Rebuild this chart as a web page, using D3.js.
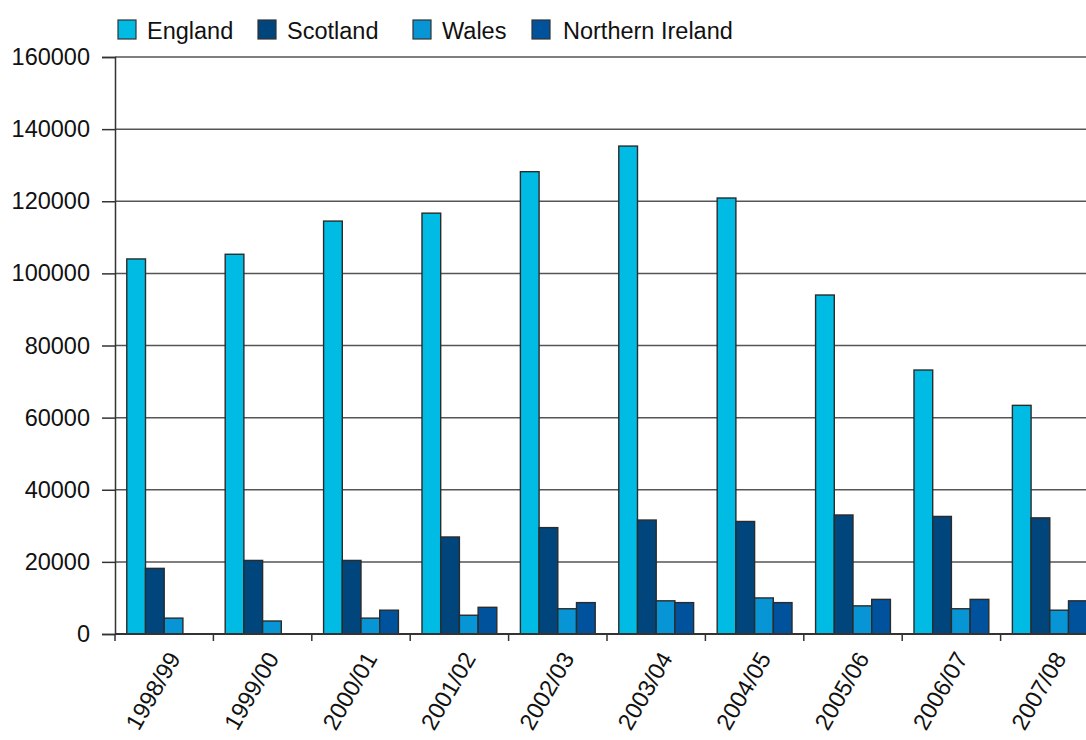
<!DOCTYPE html>
<html>
<head>
<meta charset="utf-8">
<script src="https://cdn.jsdelivr.net/npm/d3@7"></script>
<style>
  html, body { margin: 0; padding: 0; background: #fff; }
  svg { display: block; font-family: "Liberation Sans", Arial, Helvetica, sans-serif; }
</style>
</head>
<body>
<svg id="chart" width="1086" height="740"></svg>
<script>
// Yearly figures by UK nation
const years = ["1998/99", "1999/00", "2000/01", "2001/02", "2002/03", "2003/04", "2004/05", "2005/06", "2006/07", "2007/08"];
const seriesNames = ["England", "Scotland", "Wales", "Northern Ireland"];
const england = [104000, 105300, 114500, 116700, 128200, 135300, 120900, 94000, 73200, 63400];
const scotland = [18200, 20400, 20400, 26900, 29500, 31600, 31200, 33000, 32600, 32200];
const wales = [4400, 3600, 4400, 5200, 7000, 9200, 10000, 7800, 7000, 6600];
const northernIreland = [null, null, 6600, 7400, 8700, 8700, 8700, 9600, 9600, 9200];
const yTicks = [0, 20000, 40000, 60000, 80000, 100000, 120000, 140000, 160000];
const colors = ["#00bce4", "#00457c", "#0795d6", "#01529c"];

const values = [england, scotland, wales, northernIreland];
const rows = years.map((yr, i) => ({ year: yr, vals: seriesNames.map((s, k) => ({ key: s, k, v: values[k][i] })) }));

const svg = d3.select("#chart");
const plotLeft = 115, plotTop = 57, plotBottom = 634;
const step = 98.4;
const plotRight = plotLeft + step * years.length;
const fontSize = 23.5;

const x0 = d3.scaleBand().domain(years).range([plotLeft, plotRight]).paddingInner(0).paddingOuter(0);
const x1 = d3.scaleBand().domain(seriesNames).range([0, x0.bandwidth()]).paddingInner(0).paddingOuter(0.63);
const y = d3.scaleLinear().domain([0, 160000]).range([plotBottom, plotTop]);

// horizontal gridlines
svg.append("g")
  .selectAll("line")
  .data(yTicks.filter(d => d > 0))
  .join("line")
  .attr("x1", plotLeft).attr("x2", plotRight)
  .attr("y1", d => y(d)).attr("y2", d => y(d))
  .attr("stroke", "#555").attr("stroke-width", 1.5);

// bars
svg.append("g")
  .selectAll("g")
  .data(rows)
  .join("g")
  .attr("transform", d => `translate(${x0(d.year)},0)`)
  .selectAll("rect")
  .data(d => d.vals.filter(v => v.v != null))
  .join("rect")
  .attr("x", d => x1(d.key))
  .attr("y", d => y(d.v))
  .attr("width", x1.bandwidth())
  .attr("height", d => y(0) - y(d.v))
  .attr("fill", d => colors[d.k])
  .attr("stroke", "#2b2b2b")
  .attr("stroke-width", 1.4);

// y axis
const yAxis = d3.axisLeft(y).tickValues(yTicks).tickSize(13).tickPadding(12).tickFormat(d3.format("d"));
const gy = svg.append("g").attr("transform", `translate(${plotLeft},0)`).call(yAxis);
gy.select(".domain").attr("stroke", "#333").attr("stroke-width", 1.5);
gy.selectAll(".tick line").attr("stroke", "#333").attr("stroke-width", 1.5);
gy.selectAll(".tick text").attr("font-size", fontSize).attr("fill", "#111").attr("font-family", "Liberation Sans, Arial, sans-serif");

// x axis baseline with ticks at category boundaries
svg.append("line")
  .attr("x1", plotLeft).attr("x2", plotRight)
  .attr("y1", plotBottom).attr("y2", plotBottom)
  .attr("stroke", "#333").attr("stroke-width", 1.8);
svg.append("g")
  .selectAll("line")
  .data(years)
  .join("line")
  .attr("x1", d => x0(d)).attr("x2", d => x0(d))
  .attr("y1", plotBottom).attr("y2", plotBottom + 7)
  .attr("stroke", "#333").attr("stroke-width", 1.5);

// rotated category labels
svg.append("g")
  .selectAll("text")
  .data(years)
  .join("text")
  .attr("transform", d => `translate(${x0(d) + x0.bandwidth() / 2 + 10},${plotBottom + 20}) rotate(-60)`)
  .attr("text-anchor", "end")
  .attr("dy", "0.35em")
  .attr("font-size", fontSize)
  .attr("fill", "#111")
  .text(d => d);

// legend
const legendX = [118, 258, 413, 532];
const legend = svg.append("g")
  .selectAll("g")
  .data(seriesNames)
  .join("g")
  .attr("transform", (d, i) => `translate(${legendX[i]},20)`);
legend.append("rect")
  .attr("width", 18).attr("height", 19)
  .attr("fill", (d, i) => colors[i])
  .attr("stroke", "#333").attr("stroke-width", 1.2);
legend.append("text")
  .attr("x", (d, i) => i === 3 ? 31 : 29).attr("y", 19)
  .attr("font-size", fontSize)
  .attr("fill", "#111")
  .text(d => d);
</script>
</body>
</html>
